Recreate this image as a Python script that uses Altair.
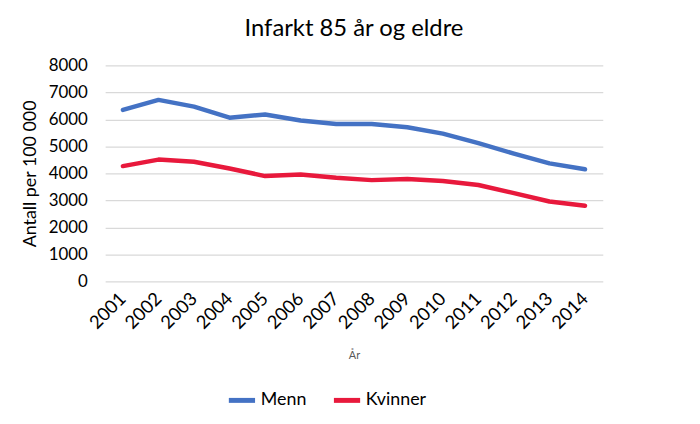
import altair as alt
import pandas as pd

years = [str(y) for y in range(2001, 2015)]
menn = [6350, 6720, 6470, 6060, 6180, 5960, 5830, 5830, 5710, 5470, 5120, 4730, 4370, 4150]
kvinner = [4270, 4510, 4430, 4180, 3900, 3960, 3840, 3750, 3790, 3720, 3570, 3270, 2960, 2800]
series = ["Menn", "Kvinner"]
colors = ["#4472C4", "#E8193C"]

rows = []
for y, m, k in zip(years, menn, kvinner):
    rows.append({"År": y, "Serie": "Menn", "Verdi": m})
    rows.append({"År": y, "Serie": "Kvinner", "Verdi": k})
df = pd.DataFrame(rows)

FONT = "Lato"

chart = alt.Chart(df).mark_line(strokeWidth=4.5, strokeCap="round", strokeJoin="round").encode(
    x=alt.X("År:O", sort=years, scale=alt.Scale(type="band", paddingInner=0, paddingOuter=0),
            axis=alt.Axis(title="År", titleFontSize=11, titleColor="#595959", titleFontWeight="normal",
                          titlePadding=18, labelAngle=-45, labelAlign="right", labelBaseline="middle",
                          labelFontSize=18.5, labelColor="#000000", labelPadding=14,
                          ticks=False, domain=False, grid=False)),
    y=alt.Y("Verdi:Q", scale=alt.Scale(domain=[0, 8000], nice=False),
            axis=alt.Axis(title="Antall per 100 000", titleFontSize=18, titleFontWeight="normal",
                          titleColor="#000000", titlePadding=9, values=list(range(0, 8001, 1000)),
                          format="d",
                          labelFontSize=17, labelColor="#000000", labelPadding=18,
                          ticks=False, domain=False, gridColor="#D9D9D9", gridWidth=1.2)),
    color=alt.Color("Serie:N", sort=series, scale=alt.Scale(domain=series, range=colors),
                    legend=alt.Legend(title=None, orient="none", direction="horizontal",
                                      legendX=122, legendY=322, symbolType="stroke",
                                      symbolStrokeWidth=5, symbolSize=700, labelFontSize=18,
                                      labelColor="#000000", columnPadding=16, labelOffset=3)),
).properties(
    width=502, height=218,
    title=alt.Title("Infarkt 85 år og eldre", fontSize=24, fontWeight="normal", color="#000000",
                    anchor="middle", offset=16),
    autosize=alt.AutoSizeParams(type="none"),
    padding={"left": 98, "top": 56, "right": 90, "bottom": 142},
).configure(font=FONT).configure_view(stroke=None)

chart.save("out.html", embed_options={"renderer": "svg", "actions": False})
